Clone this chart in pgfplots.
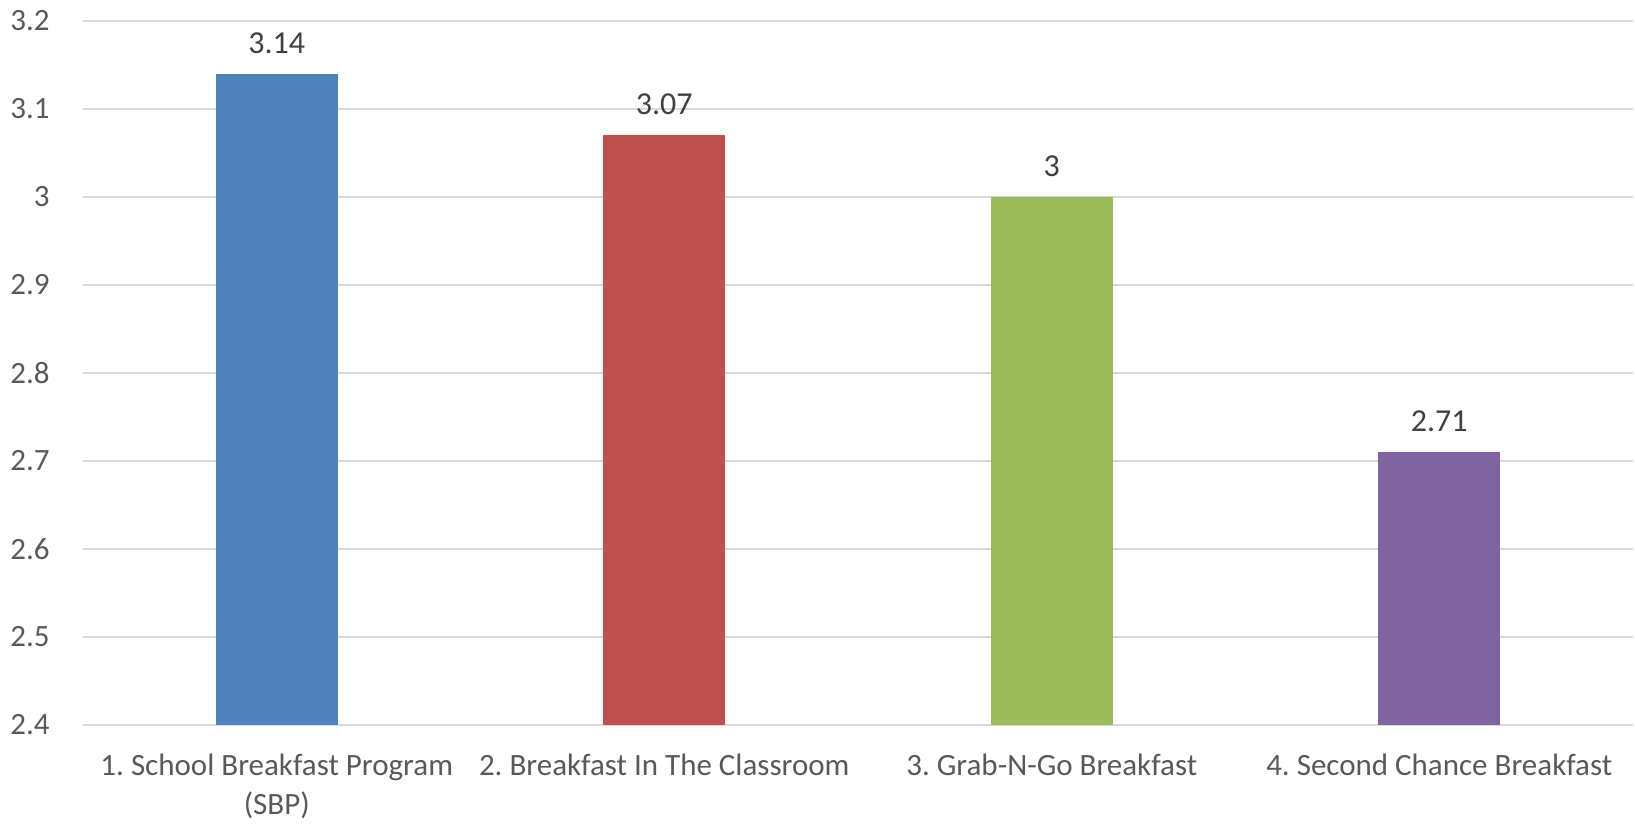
\documentclass[border=0pt]{standalone}
\usepackage{pgfplots}
\pgfplotsset{compat=1.18}
\usepackage{fontspec}
\setmainfont{Carlito}
\frenchspacing
\definecolor{cblue}{HTML}{4F81BD}
\definecolor{cred}{HTML}{C0504D}
\definecolor{cgreen}{HTML}{9BBB59}
\definecolor{cpurple}{HTML}{8064A2}
\definecolor{gridc}{HTML}{D9D9D9}
\definecolor{tickc}{HTML}{595959}
\definecolor{valc}{HTML}{404040}
\begin{document}
\begin{tikzpicture}
\path (-41.5pt,-49.5pt) rectangle (776pt,362.5pt);
\begin{axis}[
  at={(0,0)}, anchor=south west,
  scale only axis,
  width=775pt, height=352pt,
  xmin=-0.5, xmax=3.5,
  ymin=2.4, ymax=3.2,
  ybar, bar width=61pt,
  xtick={0,1,2,3},
  xticklabels={{1. School Breakfast Program\\(SBP)},{2. Breakfast In The Classroom},{3. Grab-N-Go Breakfast},{4. Second Chance Breakfast}},
  ytick={2.4,2.5,2.6,2.7,2.8,2.9,3.0,3.1,3.2},
  yticklabel style={/pgf/number format/fixed,/pgf/number format/precision=1,anchor=east,inner sep=0pt,xshift=-16.5pt},
  /pgf/number format/assume math mode=true,
  xticklabel style={align=center,anchor=north,inner sep=0pt,yshift=-14.5pt},
  major tick length=0pt,
  ymajorgrids,
  grid style={draw=gridc,line width=0.75pt},
  axis line style={draw=none},
  tick label style={font=\fontsize{15.5}{19.5}\selectfont,text=tickc},
  nodes near coords,
  nodes near coords style={font=\fontsize{16}{19}\selectfont,text=valc,anchor=center,yshift=15.5pt,/pgf/number format/fixed,/pgf/number format/precision=2},
]
\addplot[fill=cblue,draw=none,bar shift=0pt] coordinates {(0,3.14)};
\addplot[fill=cred,draw=none,bar shift=0pt] coordinates {(1,3.07)};
\addplot[fill=cgreen,draw=none,bar shift=0pt] coordinates {(2,3.00)};
\addplot[fill=cpurple,draw=none,bar shift=0pt] coordinates {(3,2.71)};
\end{axis}
\end{tikzpicture}
\end{document}
